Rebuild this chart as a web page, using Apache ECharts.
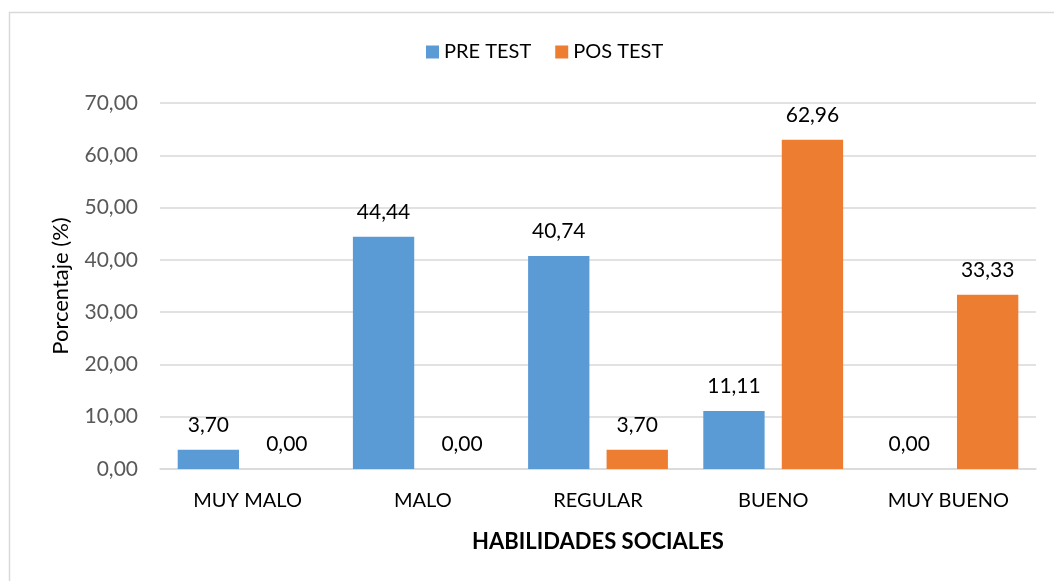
<!DOCTYPE html>
<html>
<head>
<meta charset="utf-8">
<script src="https://cdn.jsdelivr.net/npm/echarts@6/dist/echarts.min.js"></script>
<style>
  html, body { margin: 0; padding: 0; background: #fff; }
  #chart { width: 1054px; height: 581px; }
</style>
</head>
<body>
<div id="chart"></div>
<script>
// datos del gráfico
const categorias = ['MUY MALO', 'MALO', 'REGULAR', 'BUENO', 'MUY BUENO']
const preTest = [3.70, 44.44, 40.74, 11.11, 0.00]
const posTest = [0.00, 0.00, 3.70, 62.96, 33.33]
const ticksY = [0, 10, 20, 30, 40, 50, 60, 70]

const fuente = 'Lato, "Open Sans", sans-serif'
const fmt = v => Number(v).toFixed(2).replace('.', ',')

let mychart = echarts.init(document.getElementById('chart'))
mychart.setOption({
  animation: false,
  textStyle: { fontFamily: fuente },
  // marco del gráfico
  graphic: [{
    type: 'rect',
    shape: { x: 9.5, y: 12.5, width: 1200, height: 700 },
    style: { fill: 'none', stroke: '#d9d9d9', lineWidth: 1.5 },
    silent: true
  }],
  legend: {
    top: 37,
    left: 421,
    itemWidth: 13,
    itemHeight: 13,
    itemGap: 24,
    icon: 'rect',
    textStyle: { fontSize: 20, color: '#000', fontFamily: fuente },
    data: ['PRE TEST', 'POS TEST']
  },
  grid: {
    left: 160,
    right: 18,
    top: 103,
    bottom: 112
  },
  xAxis: {
    type: 'category',
    data: categorias,
    name: 'HABILIDADES SOCIALES',
    nameLocation: 'middle',
    nameGap: 62,
    nameTextStyle: { fontSize: 22, fontWeight: 'bold', color: '#000', fontFamily: fuente },
    axisLine: { lineStyle: { color: '#d9d9d9', width: 1.5 } },
    axisTick: { show: false },
    axisLabel: { fontSize: 20, color: '#000', margin: 22, fontFamily: fuente }
  },
  yAxis: {
    type: 'value',
    min: ticksY[0],
    max: ticksY[ticksY.length - 1],
    interval: 10,
    name: 'Porcentaje (%)',
    nameLocation: 'middle',
    nameGap: 88,
    nameTextStyle: { fontSize: 22, color: '#000', fontFamily: fuente },
    axisLine: { show: false },
    axisTick: { show: false },
    axisLabel: { fontSize: 21, color: '#595959', margin: 22, formatter: fmt, fontFamily: fuente },
    splitLine: { lineStyle: { color: '#d9d9d9', width: 1.5 } }
  },
  series: [
    {
      name: 'PRE TEST',
      type: 'bar',
      data: preTest,
      barWidth: '35%',
      barGap: '28%',
      itemStyle: { color: '#5b9bd5' },
      label: {
        show: true,
        position: 'top',
        distance: 14,
        fontSize: 21,
        color: '#000',
        fontFamily: fuente,
        formatter: p => fmt(p.value)
      }
    },
    {
      name: 'POS TEST',
      type: 'bar',
      data: posTest,
      barWidth: '35%',
      itemStyle: { color: '#ed7d31' },
      label: {
        show: true,
        position: 'top',
        distance: 14,
        fontSize: 21,
        color: '#000',
        fontFamily: fuente,
        formatter: p => fmt(p.value)
      }
    }
  ]
})
</script>
</body>
</html>
